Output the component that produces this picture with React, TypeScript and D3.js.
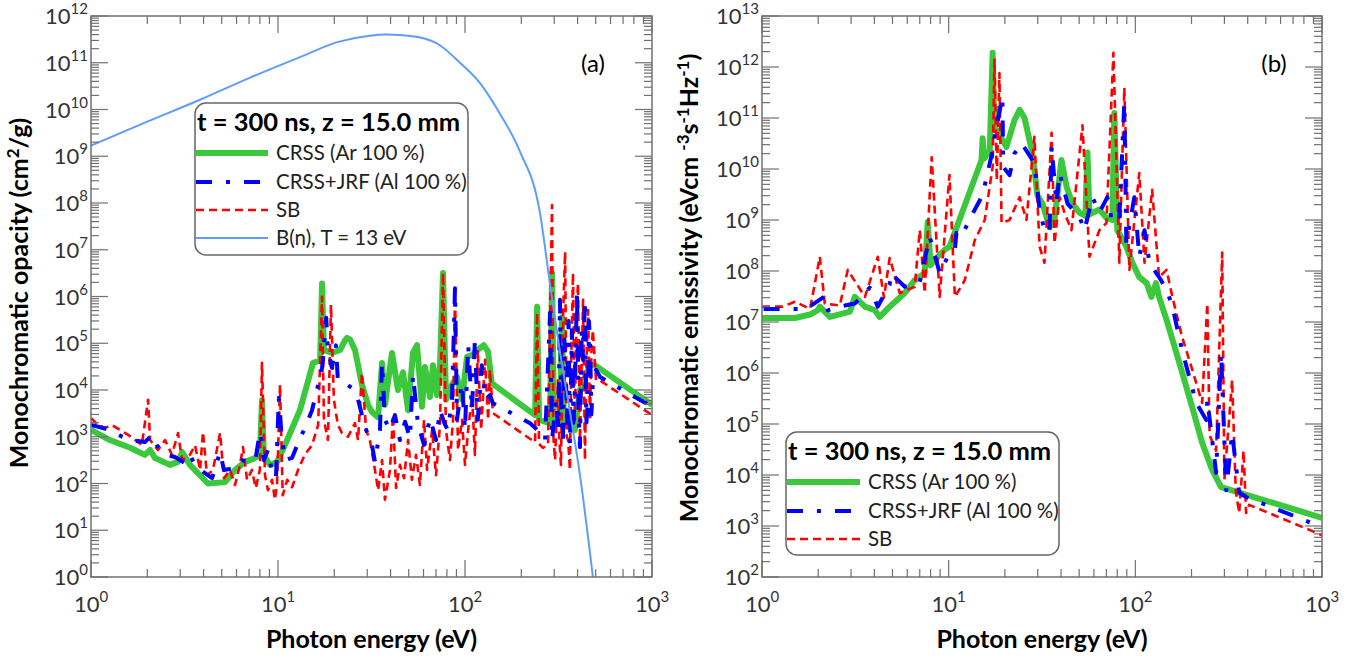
import React from "react";
import * as d3 from "d3";

type Pt = [number, number];

// ---------- Data (photon energy eV, value) ----------
const xTickExps = [0, 1, 2, 3];
const leftYTickExps = [0, 1, 2, 3, 4, 5, 6, 7, 8, 9, 10, 11, 12];
const rightYTickExps = [2, 3, 4, 5, 6, 7, 8, 9, 10, 11, 12, 13];

const legendTitle = "t = 300 ns, z = 15.0 mm";
const seriesNames = ["CRSS (Ar 100 %)", "CRSS+JRF (Al 100 %)", "SB", "B(n), T = 13 eV"];

const leftCRSS: Pt[] = [
  [1, 1.4e3], [1.26, 8.5e2], [1.62, 5.8e2], [1.94, 4.1e2], [2.07, 5.2e2], [2.2, 3.5e2], [2.64, 2.5e2],
  [2.92, 2.9e2], [3.07, 4.7e2], [3.38, 2.5e2], [3.83, 1.5e2], [4.22, 1.0e2], [5.21, 1.07e2], [5.89, 1.95e2],
  [6.66, 2.9e2], [7.53, 3.5e2], [8.0, 4.1e2], [8.21, 6e3], [8.4, 4.0e2], [9.06, 2.5e2], [9.88, 2.9e2],
  [10.6, 5.2e2], [13.1, 3.7e3], [15.4, 3.8e4], [16.8, 4.4e4], [17.2, 1.9e6], [17.6, 7.2e4], [19.4, 6.2e4],
  [21.5, 7.2e4], [22.8, 1.15e5], [23.4, 1.3e5], [24.3, 1.2e5], [25.8, 7.2e4], [28.1, 1.3e4], [30.3, 4.8e3],
  [31.8, 3.4e3], [34.3, 2.6e3], [36.0, 3.8e4], [37.3, 4.8e3], [40.7, 6.2e4], [43.8, 1e4], [46.6, 2.4e4],
  [49.6, 3.7e3], [52.7, 6.2e4], [55.4, 9.1e4], [58.9, 4.4e3], [61.1, 3.1e4], [65, 7.1e3], [67.4, 3.4e4],
  [70.8, 7.8e3], [73.5, 3.4e4], [76.3, 3.2e6], [79.1, 6.2e3], [85.2, 1.3e4], [90.6, 1.9e4], [96.4, 6.2e3],
  [102.5, 5.1e4], [109, 5.6e4], [117, 7.2e4], [126, 9.1e4], [133, 6.5e4], [139, 1.4e4], [237, 2.9e3],
  [243, 6e5], [249, 2.3e3], [285, 1.95e3], [292, 3.2e6], [299, 1.95e3], [322, 2.3e3], [330, 3.6e5],
  [338, 1.8e3], [387, 1.4e3], [412, 1e4], [466, 3.4e4], [495, 3.4e4], [1000, 4.8e3],
];

const leftJRF: Pt[] = [
  [1, 1.8e3], [1.12, 1.6e3], [1.26, 1.4e3], [1.47, 1e3], [1.66, 8.5e2], [1.94, 7.7e2], [2.12, 1.1e3],
  [2.25, 6.6e2], [2.49, 4.1e2], [2.81, 3.7e2], [3.18, 2.75e2], [3.38, 4.1e2], [3.6, 2.5e2], [4.07, 1.66e2],
  [4.44, 1.3e2], [4.9, 4.7e2], [5.14, 1.95e2], [5.89, 2.15e2], [6.42, 3.16e2], [7.08, 2.75e2], [7.6, 3.55e2],
  [8.0, 1.26e3], [8.4, 3.16e2], [8.84, 5.2e2], [9.29, 1.78e2], [9.75, 1.3e2], [10.1, 6.8e3], [10.4, 1.4e3],
  [10.9, 3.16e2], [11.9, 3.55e2], [13.1, 9.3e2], [13.9, 1.5e3], [15.2, 3.7e3], [16.4, 1.3e4], [16.8, 1.4e4],
  [17.4, 4.4e4], [18.1, 3.5e5], [18.5, 7.2e4], [19.4, 3e4], [20.4, 9e4], [20.9, 1.6e4], [22.8, 1.4e4],
  [24.9, 1.1e4], [26.8, 6.2e3], [29.2, 1.6e3], [31.8, 6.7e2], [33, 2.9e2], [35.1, 1.4e3], [36, 3.8e4],
  [37.3, 2.3e3], [39.7, 1.4e3], [42.2, 2.9e3], [44.9, 8.5e2], [47.8, 2.1e3], [50.8, 9.3e2], [52.7, 2.1e4],
  [56.1, 1.8e3], [60.4, 6.7e2], [65, 2.5e3], [70, 8.5e2], [73.5, 3.7e3], [78.2, 1.8e3], [81.1, 1.4e3],
  [85.2, 6.2e3], [88.4, 1.5e6], [90.6, 2.3e3], [96.4, 1.4e4], [100, 1.4e3], [104, 9.1e4], [109, 3.7e3],
  [113, 1.2e5], [117, 2.3e3], [123, 3.4e4], [129, 6.2e3], [136, 7.8e3], [141, 5.2e3], [223, 1.95e3],
  [237, 1.55e3], [243, 1.4e3], [268, 8.5e2], [285, 4.5e5], [292, 8.5e2], [307, 6.2e3], [316, 1.5e3],
  [322, 8.5e5], [328, 2e3], [334, 8.5e2], [340, 1.2e5], [347, 1.6e4], [352, 1.5e3], [358, 3e5],
  [364, 6.7e2], [373, 1.9e5], [380, 2e3], [387, 1e4], [397, 1.4e6], [405, 3e3], [412, 6e2], [420, 2e5],
  [428, 4.4e4], [438, 8.5e5], [446, 2e3], [455, 6.2e3], [460, 3e5], [466, 1.2e5], [474, 3e3],
  [483, 1.6e4], [502, 2.7e4], [527, 1.9e4], [1000, 4.4e3],
];

const leftSB: Pt[] = [
  [1, 2.5e3], [1.09, 1.8e3], [1.19, 1.55e3], [1.29, 1.8e3], [1.43, 1.4e3], [1.58, 1.1e3], [1.72, 8.5e2],
  [1.87, 6.6e2], [2.02, 6.2e3], [2.07, 8.5e2], [2.28, 5.2e2], [2.49, 8.5e2], [2.71, 4.1e2], [2.92, 1.2e3],
  [3.07, 3.16e2], [3.38, 4.1e2], [3.6, 6.6e2], [3.83, 1.95e2], [3.97, 1.26e3], [4.17, 1.5e2], [4.49, 1.95e2],
  [4.9, 1.2e3], [5.14, 1.3e2], [5.54, 1.95e2], [5.89, 93], [6.26, 2.5e2], [6.5, 6e2], [6.83, 1.2e2],
  [7.26, 1.95e2], [7.6, 80], [8.0, 1.95e2], [8.21, 3.8e4], [8.52, 1.5e2], [8.84, 72], [9.29, 1.2e2],
  [9.63, 45], [9.88, 93], [10.25, 1.3e4], [10.6, 56], [11.2, 1.2e2], [11.9, 83], [12.8, 1.95e2],
  [13.9, 4.1e2], [15.2, 6.6e2], [16.4, 1.8e3], [17.2, 9.8e5], [17.6, 2.3e3], [18.5, 8.5e2], [19.2, 6.6e5],
  [19.9, 6.2e3], [20.9, 1.8e3], [22, 1.2e3], [23.7, 1e3], [25.8, 1.95e3], [26.8, 8.5e2], [28.1, 2.3e4],
  [29.6, 1.4e3], [31, 8.5e2], [33, 1.95e2], [34.3, 72], [36, 3.16e2], [37.3, 45], [39.7, 1.95e2],
  [41.2, 2.9e3], [42.8, 80], [44.9, 2.5e2], [47.2, 1.3e2], [49.6, 8.5e2], [52, 1.2e2], [54.7, 4.1e2],
  [57.4, 93], [60.4, 2.3e3], [62.7, 1.95e2], [66.7, 1.4e3], [70, 1.5e2], [73.5, 1.8e3], [76.3, 3.2e6],
  [79.1, 1.4e3], [83.1, 3.16e2], [86.3, 2.3e3], [88.4, 1.07e6], [91.8, 5.2e2], [96.4, 2.3e3], [100, 2.5e2],
  [104, 1.4e3], [109, 7.8e3], [113, 4.1e2], [117, 7.2e4], [122, 1.4e3], [128, 4.4e4], [133, 2.3e3],
  [136, 2.7e4], [141, 3.2e3], [237, 7.6e2], [243, 4.5e5], [249, 7e2], [261, 5.8e2], [278, 6.6e2],
  [292, 9e7], [297, 1e3], [303, 3.16e2], [314, 1.6e4], [320, 8e2], [326, 2.5e2], [334, 3e5], [343, 9e6],
  [350, 1e3], [356, 8.5e2], [364, 1.95e2], [370, 5e4], [378, 3.2e6], [387, 2.3e3], [395, 5e5],
  [402, 1.9e6], [412, 8.5e2], [420, 3e4], [428, 8.5e5], [438, 3.16e2], [446, 4e4], [455, 5.1e5],
  [466, 2.3e3], [475, 8e4], [483, 1.9e5], [502, 1.6e4], [527, 1.6e4], [1000, 2.9e3],
];

const leftPlanck: Pt[] = [
  [1, 1.7e9], [2, 5.5e9], [3.8, 1.6e10], [7, 4.7e10], [13, 1.3e11], [21, 2.8e11], [31, 3.8e11],
  [38, 4.0e11], [45, 3.9e11], [57, 3.5e11], [73, 2.4e11], [94, 1.0e11], [120, 3.7e10], [154, 8e9],
  [196, 1.3e9], [252, 6e7], [284, 2e6], [323, 6e4], [366, 3e3], [412, 1.5e2], [483, 1],
];

const rightCRSS: Pt[] = [
  [1, 1.2e7], [1.5, 1.2e7], [1.81, 1.4e7], [1.99, 1.7e7], [2.04, 2.0e7], [2.31, 1.26e7], [2.96, 1.6e7],
  [3.14, 3.1e7], [3.56, 2.0e7], [4.02, 1.7e7], [4.27, 1.26e7], [4.83, 2.0e7], [5.82, 3.7e7], [6.58, 6.6e7],
  [7.44, 9.1e7], [7.72, 9.1e8], [8.0, 1.3e8], [8.41, 1.66e8], [9.52, 2.6e8], [10.1, 3.0e8], [15.0, 1.5e10],
  [15.2, 4e10], [15.5, 1.6e10], [16.6, 2.3e10], [17.2, 1.9e12], [17.6, 5.8e10], [18.1, 5.8e10],
  [20.4, 2.7e10], [22.5, 9e10], [24.0, 1.45e11], [25.5, 1e11], [27.1, 3.7e10], [28.1, 2e10], [29.9, 3e9],
  [31.8, 2.1e9], [34.7, 7.2e8], [36.9, 1e9], [40.2, 1.5e10], [42.8, 4.5e9], [46.0, 2.1e9], [50.2, 1.4e9],
  [54, 1.2e9], [55.4, 2.1e10], [56.8, 1.3e9], [64.2, 1.6e9], [70.0, 1.1e9], [75.3, 1e9], [77.2, 1.26e11],
  [80.1, 6.3e8], [89.5, 3e8], [96.4, 1.45e8], [105, 7.6e7], [115, 5.8e7], [122, 3.1e7], [129, 5.8e7],
  [134, 3.1e7], [147, 1.1e7], [172, 1.6e6], [202, 2.1e5], [228, 4.3e4], [258, 1.26e4], [288, 5.8e3],
  [1000, 1.45e3],
];

const rightJRF: Pt[] = [
  [1.02, 1.8e7], [1.29, 1.8e7], [1.72, 1.8e7], [2.17, 3.2e7], [2.25, 1.7e7], [2.78, 2.1e7], [3.14, 2.3e7],
  [3.78, 4.7e7], [4.17, 2e7], [4.83, 5.4e7], [4.9, 9.1e7], [5.82, 4.9e7], [7.0, 6e7], [7.91, 4.7e8],
  [8.95, 9.1e7], [9.88, 1.9e8], [10.8, 2.6e8], [11.0, 5.6e8], [11.7, 4.7e8], [12.9, 1e9], [15.2, 3.1e9],
  [17.2, 2.3e10], [17.6, 4.3e10], [19.4, 2.6e11], [19.6, 1.1e10], [21.2, 7.6e9], [22.5, 2e10],
  [24.6, 3.2e10], [28.8, 1.3e10], [30.7, 1.6e9], [32.6, 6.3e8], [34.7, 5.6e8], [35.6, 2.7e10],
  [37.8, 2.1e9], [39.3, 8.3e9], [43.3, 2.1e9], [50.2, 1.15e9], [53.4, 6.3e8], [58.9, 2.8e9], [64.2, 1.4e9],
  [70.8, 2.8e9], [75.3, 8.7e8], [82.1, 1.15e9], [87.3, 2e11], [89.5, 3.5e8], [98.8, 2.8e9], [105, 1.9e8],
  [112, 6.3e8], [119, 1.45e8], [134, 7.6e7], [147, 4.3e7], [158, 2e7], [178, 2.8e6], [212, 2.6e5],
  [240, 1.2e5], [243, 3e5], [271, 1.1e4], [288, 2.5e6], [307, 5e3], [330, 6.6e4], [360, 4.5e3],
  [392, 3.7e3], [1000, 9.5e2],
];

const rightSB: Pt[] = [
  [1, 2e7], [1.29, 2e7], [1.5, 2.5e7], [1.81, 1.8e7], [2.04, 1.9e8], [2.17, 2.3e7], [2.61, 2.1e7],
  [2.88, 1.05e8], [3.56, 3.1e7], [4.17, 1.9e8], [4.5, 3e7], [4.83, 1.8e8], [5.47, 3.7e7], [6.58, 4.9e7],
  [7.0, 6.3e8], [7.44, 3.7e7], [8.11, 1.7e10], [8.95, 3.1e7], [10.1, 7.6e9], [10.8, 3.1e7], [12.2, 6.6e7],
  [13.8, 4e8], [15.6, 1e9], [17.2, 1.1e10], [17.6, 1.4e12], [18.1, 6e9], [18.7, 7.6e11], [19.2, 8.7e8],
  [21.2, 1e9], [24.0, 2.8e9], [26.1, 1e9], [28.8, 4.3e10], [30.7, 3e8], [32.6, 1.45e8], [35.6, 5.1e10],
  [36.9, 3.5e8], [39.3, 2.8e9], [41.7, 1.4e9], [45.5, 6.3e8], [52.1, 7.2e10], [56.8, 1.9e8], [64.2, 6.3e8],
  [70.0, 8.7e8], [76.3, 1.9e12], [82.1, 1.45e8], [87.3, 3.9e11], [92.9, 1.05e8], [105, 8.3e9],
  [112, 1.45e8], [123, 3.9e9], [134, 7.6e7], [147, 1.05e8], [158, 3.1e7], [178, 5.1e6], [202, 1.15e6],
  [228, 2.6e5], [243, 2.3e7], [250, 6e4], [271, 3e4], [292, 2.3e8], [300, 8e3], [330, 7.2e5], [345, 5e3],
  [360, 1.8e3], [380, 3e4], [392, 1.8e3], [407, 2.6e3], [1000, 6.6e2],
];

// ---------- Styles ----------
const FONT = "Lato, 'Open Sans', 'DejaVu Sans', sans-serif";
const AXIS = "#707070";
const GREEN = "#3cc83c";
const BLUE = "#0000ff";
const RED = "#ff0000";
const LBLUE = "#5e9cff";

const styles = [
  { stroke: GREEN, width: 6, dash: "" },
  { stroke: BLUE, width: 4, dash: "16,14,4,14" },
  { stroke: RED, width: 2.6, dash: "8,5" },
  { stroke: LBLUE, width: 2, dash: "" },
];

type PanelProps = {
  id: string;
  x0: number; x1: number; y0: number; y1: number;
  yExps: number[];
  series: { data: Pt[]; style: number; smooth?: boolean }[];
  tag: string; tagX: number;
  yTitle: React.ReactNode; yTitleX: number; yTitleY: number;
  legend: { x: number; y: number; w: number; h: number; entries: number[]; titleY: number; lineX1: number; rowY: number[] };
};

function Panel(p: PanelProps) {
  const xs = d3.scaleLog().domain([1, 1000]).range([p.x0, p.x1]);
  const yMin = p.yExps[0], yMax = p.yExps[p.yExps.length - 1];
  const ys = d3.scaleLog().domain([10 ** yMin, 10 ** yMax]).range([p.y1, p.y0]);

  const xMinor: number[] = [];
  xTickExps.slice(0, -1).forEach((e) => { for (let m = 2; m <= 9; m++) xMinor.push(m * 10 ** e); });
  const yMinor: number[] = [];
  p.yExps.slice(0, -1).forEach((e) => { for (let m = 2; m <= 9; m++) yMinor.push(m * 10 ** e); });

  const MAJ = 17, MIN = 8;
  const ticks: React.ReactNode[] = [];
  xTickExps.forEach((e) => {
    const x = xs(10 ** e);
    ticks.push(<line key={`xb${e}`} x1={x} x2={x} y1={p.y1} y2={p.y1 - MAJ} />);
    ticks.push(<line key={`xt${e}`} x1={x} x2={x} y1={p.y0} y2={p.y0 + MAJ} />);
  });
  xMinor.forEach((v, i) => {
    const x = xs(v);
    ticks.push(<line key={`xbm${i}`} x1={x} x2={x} y1={p.y1} y2={p.y1 - MIN} />);
    ticks.push(<line key={`xtm${i}`} x1={x} x2={x} y1={p.y0} y2={p.y0 + MIN} />);
  });
  p.yExps.forEach((e) => {
    const y = ys(10 ** e);
    ticks.push(<line key={`yl${e}`} x1={p.x0} x2={p.x0 + MAJ} y1={y} y2={y} />);
    ticks.push(<line key={`yr${e}`} x1={p.x1} x2={p.x1 - MAJ} y1={y} y2={y} />);
  });
  yMinor.forEach((v, i) => {
    const y = ys(v);
    ticks.push(<line key={`ylm${i}`} x1={p.x0} x2={p.x0 + MIN} y1={y} y2={y} />);
    ticks.push(<line key={`yrm${i}`} x1={p.x1} x2={p.x1 - MIN} y1={y} y2={y} />);
  });

  const line = d3.line<Pt>().x((d) => xs(d[0])).y((d) => ys(d[1]));
  const smoothLine = d3.line<Pt>().x((d) => xs(d[0])).y((d) => ys(d[1])).curve(d3.curveMonotoneX);

  const L = p.legend;
  return (
    <g fontFamily={FONT}>
      <defs>
        <clipPath id={`clip-${p.id}`}>
          <rect x={p.x0} y={p.y0} width={p.x1 - p.x0} height={p.y1 - p.y0} />
        </clipPath>
      </defs>
      <g clipPath={`url(#clip-${p.id})`}>
        {p.series.map((s, i) => {
          const st = styles[s.style];
          return (
            <path key={i} d={(s.smooth ? smoothLine : line)(s.data) || ""} fill="none" stroke={st.stroke}
              strokeWidth={st.width} strokeDasharray={st.dash || undefined} strokeLinejoin="round" />
          );
        })}
      </g>
      <g stroke={AXIS} strokeWidth={1.2}>{ticks}</g>
      <rect x={p.x0} y={p.y0} width={p.x1 - p.x0} height={p.y1 - p.y0} fill="none" stroke={AXIS} strokeWidth={1.5} />
      {xTickExps.map((e) => (
        <text key={`xl${e}`} x={xs(10 ** e)} y={p.y1 + 35} textAnchor="middle" fontSize={22} fill="#333">
          10<tspan dy={-10} fontSize={15}>{e}</tspan>
        </text>
      ))}
      {p.yExps.map((e) => (
        <text key={`yl${e}`} x={p.x0 - 3} y={ys(10 ** e) + 8} textAnchor="end" fontSize={22} fill="#333">
          10<tspan dy={-10} fontSize={15}>{e}</tspan>
        </text>
      ))}
      <text x={(p.x0 + p.x1) / 2} y={648} textAnchor="middle" fontSize={25} fontWeight="bold" fill="#000">
        Photon energy (eV)
      </text>
      <text transform={`translate(${p.yTitleX},${p.yTitleY}) rotate(-90)`} textAnchor="middle"
        fontSize={25} fontWeight="bold" fill="#000">
        {p.yTitle}
      </text>
      <text x={p.tagX} y={72} textAnchor="middle" fontSize={24} fill="#000">{p.tag}</text>
      <rect x={L.x} y={L.y} width={L.w} height={L.h} rx={11} ry={11} fill="#fff" stroke="#666" strokeWidth={1.5} />
      <text x={L.x + 2} y={L.titleY} fontSize={25.5} fontWeight="bold" fill="#000">{legendTitle}</text>
      {L.entries.map((si, k) => {
        const st = styles[si];
        const y = L.rowY[k];
        return (
          <g key={k}>
            <line x1={L.x + 1} x2={L.lineX1} y1={y} y2={y} stroke={st.stroke} strokeWidth={st.width}
              strokeDasharray={st.dash || undefined} />
            <text x={L.lineX1 + 8} y={y + 7} fontSize={20.5} fill="#222">{seriesNames[si]}</text>
          </g>
        );
      })}
    </g>
  );
}

export default function App() {
  return (
    <svg width={1360} height={660} style={{ position: "absolute", left: 0, top: 0, background: "#fff" }}>
      <Panel
        id="a" x0={91} x1={652} y0={16} y1={577} yExps={leftYTickExps}
        series={[
          { data: leftCRSS, style: 0 },
          { data: leftSB, style: 2 },
          { data: leftJRF, style: 1 },
          { data: leftPlanck, style: 3, smooth: true },
        ]}
        tag="(a)" tagX={593}
        yTitle={<>Monochromatic opacity (cm<tspan dy={-9} fontSize={17}>2</tspan><tspan dy={9}>/g)</tspan></>}
        yTitleX={28} yTitleY={293}
        legend={{ x: 195, y: 103, w: 273, h: 152, entries: [0, 1, 2, 3], titleY: 131, lineX1: 268, rowY: [153, 182, 210, 238] }}
      />
      <Panel
        id="b" x0={762} x1={1322} y0={16} y1={577} yExps={rightYTickExps}
        series={[
          { data: rightCRSS, style: 0 },
          { data: rightSB, style: 2 },
          { data: rightJRF, style: 1 },
        ]}
        tag="(b)" tagX={1274}
        yTitle={<>Monochromatic emissivity (eVcm <tspan dy={-9} fontSize={17}>-3</tspan><tspan dy={9}>s</tspan><tspan dy={-9} fontSize={17}>-1</tspan><tspan dy={9}>Hz</tspan><tspan dy={-9} fontSize={17}>-1</tspan><tspan dy={9}>)</tspan></>}
        yTitleX={698} yTitleY={288}
        legend={{ x: 786, y: 432, w: 273, h: 123, entries: [0, 1, 2], titleY: 460, lineX1: 860, rowY: [482, 511, 539] }}
      />
    </svg>
  );
}
